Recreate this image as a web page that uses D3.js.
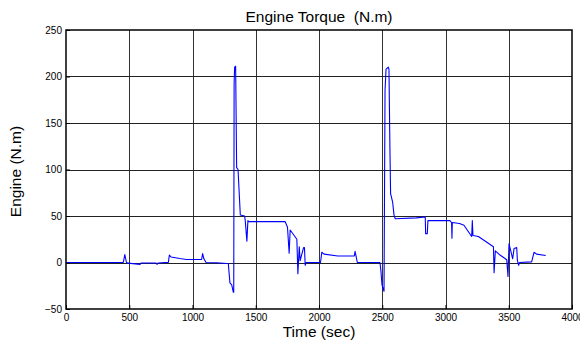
<!DOCTYPE html>
<html><head><meta charset="utf-8">
<script src="https://cdn.jsdelivr.net/npm/d3@7"></script>
<style>body{margin:0;background:#fff}svg{display:block}</style>
</head><body>
<svg id="c" width="580" height="342"></svg>
<script>
const timeSec = [0,453,465,478,490,585,595,712,720,728,783,809,817,830,900,953,1072,1080,1090,1107,1191,1270,1283,1296,1310,1323,1326,1329,1333,1341,1349,1360,1378,1412,1417,1430,1438,1443,1732,1751,1764,1772,1825,1833,1844,1851,1878,1885,1891,1898,2012,2022,2040,2149,2279,2285,2303,2482,2490,2498,2514,2522,2530,2548,2553,2561,2566,2582,2593,2603,2769,2840,2843,2856,2861,3035,3048,3051,3054,3111,3146,3207,3212,3217,3260,3379,3384,3394,3431,3484,3494,3502,3515,3531,3542,3563,3568,3578,3585,3681,3700,3720,3792];
const torqueNm = [0,0,8.5,0,-0.7,-2,-0.5,-0.5,-2,-0.5,0,0,8,6,4.3,3.2,3.2,9.6,4,0,-0.3,-1,-1,-22,-24,-32,-32,192,210,211,102,100,51,50,45,23,45,44,44,38,10,35,25,-12,17,2,16,16,-3,0,0,11,9,7,7,12,0,0,-10,-24,-31,185,208,210,208,120,74,65,51,47,48,49,31,31,45,45,43,26,43,42,40,28,45,29,28,17,-11,12.5,8,3,-15,20,13,4,15,16,2.5,-3,0,0.7,11,9,7.5];
const xTicks = [0,500,1000,1500,2000,2500,3000,3500,4000];
const yTicks = [-50,0,50,100,150,200,250];

const svg = d3.select("#c");
const m = {l:66, r:8, t:30, b:33};
const W = 580, H = 342;
const x = d3.scaleLinear().domain([0,4000]).range([m.l, W-m.r]);
const y = d3.scaleLinear().domain([-50,250]).range([H-m.b, m.t]);
const font = "Liberation Sans, Arial, sans-serif";

const g = svg.append("g");
// grid
g.selectAll(".gx").data(xTicks.slice(1,-1)).join("line")
  .attr("x1",d=>Math.round(x(d))+0.5).attr("x2",d=>Math.round(x(d))+0.5)
  .attr("y1",m.t).attr("y2",H-m.b).attr("stroke","#333").attr("stroke-width",1);
g.selectAll(".gy").data(yTicks.slice(1,-1)).join("line")
  .attr("y1",d=>Math.round(y(d))+0.5).attr("y2",d=>Math.round(y(d))+0.5)
  .attr("x1",m.l).attr("x2",W-m.r).attr("stroke","#222").attr("stroke-width",1);

// axes
const fmt = d3.format("d");
const ax = g.append("g").attr("transform",`translate(0,${H-m.b})`)
  .call(d3.axisBottom(x).tickValues(xTicks).tickFormat(fmt).tickSize(-4).tickPadding(5));
const ay = g.append("g").attr("transform",`translate(${m.l},0)`)
  .call(d3.axisLeft(y).tickValues(yTicks).tickFormat(fmt).tickSize(-4).tickPadding(4));
[ax,ay].forEach(a=>{
  a.select(".domain").remove();
  a.selectAll("text").attr("font-family",font).attr("font-size",10).attr("fill","#000");
  a.selectAll("line").attr("stroke","#000");
});

// data line
const line = d3.line().x((d,i)=>x(timeSec[i])).y(d=>y(d));
g.append("path").datum(torqueNm).attr("d",line)
  .attr("fill","none").attr("stroke","#0000ff").attr("stroke-width",1.1).attr("stroke-linejoin","round");

// box
g.append("rect").attr("x",m.l).attr("y",m.t).attr("width",W-m.r-m.l).attr("height",H-m.b-m.t)
  .attr("fill","none").attr("stroke","#000").attr("stroke-width",1.5);

svg.append("text").attr("x",(m.l+W-m.r)/2).attr("y",22).attr("text-anchor","middle")
  .attr("font-family",font).attr("font-size",15.5).style("white-space","pre").text("Engine Torque  (N.m)");
svg.append("text").attr("x",(m.l+W-m.r)/2).attr("y",336.5).attr("text-anchor","middle")
  .attr("font-family",font).attr("font-size",15.5).text("Time (sec)");
svg.append("text").attr("transform",`translate(20.5,${(m.t+H-m.b)/2+2}) rotate(-90)`).attr("text-anchor","middle")
  .attr("font-family",font).attr("font-size",15.5).text("Engine (N.m)");
</script>
</body></html>
